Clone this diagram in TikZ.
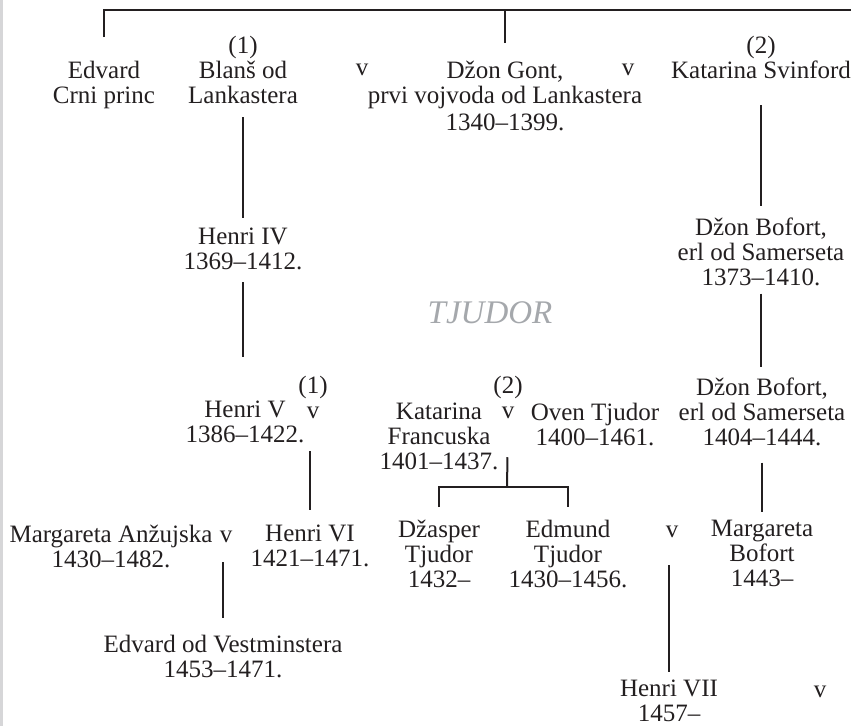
\documentclass[tikz,border=0pt]{standalone}
\usepackage{fontspec}
\setmainfont{Liberation Serif}
\usetikzlibrary{positioning}
\definecolor{ink}{RGB}{35,31,32}
\definecolor{stripgray}{RGB}{214,214,216}
\definecolor{housegray}{RGB}{165,168,172}

\begin{document}
\begin{tikzpicture}[x=1pt, y=-1pt,
    person/.style={anchor=north, inner sep=0pt, align=center, text=ink,
        font=\fontsize{25}{25}\selectfont, execute at begin node=\strut},
    wed/.style={person},
    link/.style={draw=ink, line width=2pt}]
        \useasboundingbox (0,0) rectangle (851,726);
        \fill[stripgray] (0,0) rectangle (3,726);

        % nodes %
        \node[person] (edvard) at (104,60.5) {Edvard\\Crni princ};
        \node[person] (blans) at (243,35.5) {(1)\\Blanš od\\Lankastera};
        \node[wed] (v1) at (362,57.5) {v};
        \node[person] (gont) at (505,60.5) {Džon Gont,\\prvi vojvoda od Lankastera\\[2pt]1340--1399.};
        \node[wed] (v2) at (628,57.5) {v};
        \node[person] (svinford) at (761,35.5) {(2)\\Katarina Svinford};

        \node[person] (henri4) at (243,227.5) {Henri IV\\1369--1412.};
        \node[person] (bofort1) at (761,217.5) {Džon Bofort,\\erl od Samerseta\\1373--1410.};
        \node[text=housegray, font=\fontsize{33}{36}\selectfont\itshape] (house) at (490,313) {TJUDOR};

        \node[person] (henri5) at (245,400.5) {Henri V\\1386--1422.};
        \node[wed] (v3) at (313,375.5) {(1)\\v};
        \node[person] (katarina) at (439,402.5) {Katarina\\Francuska\\1401--1437.};
        \node[wed] (v4) at (508,375.5) {(2)\\v};
        \node[person] (oven) at (595,402.5) {Oven Tjudor\\1400--1461.};
        \node[person] (bofort2) at (762,377.5) {Džon Bofort,\\erl od Samerseta\\1404--1444.};

        \node[person] (anzujska) at (111,524.5) {Margareta Anžujska\\1430--1482.};
        \node[wed] (v5) at (226,524.5) {v};
        \node[person] (henri6) at (310,524.5) {Henri VI\\1421--1471.};
        \node[person] (dzasper) at (439,519.5) {Džasper\\Tjudor\\1432--};
        \node[person] (edmund) at (568,519.5) {Edmund\\Tjudor\\1430--1456.};
        \node[wed] (v6) at (672,519.5) {v};
        \node[person] (margareta) at (762,519.5) {Margareta\\Bofort\\1443--};

        \node[person] (vestminster) at (223,634.5) {Edvard od Vestminstera\\1453--1471.};
        \node[person] (henri7) at (669,679.5) {Henri VII\\1457--};
        \node[wed] (v7) at (820,679.5) {v};

        \coordinate (crown) at (856,10);
        \coordinate (fork) at (507,487);

        % edges %
        \draw[link, shorten <=23.5pt] (edvard.north) |- (crown);
        \draw[link, shorten <=17.5pt] (gont.north) -- (gont.north |- crown);
        \draw[link, shorten <=6.5pt, shorten >=9.5pt] (blans.south) -- (blans.south |- henri4.north);
        \draw[link, shorten <=5.5pt, shorten >=43.5pt] (henri4.south) -- (henri4.south |- henri5.north);
        \draw[link, shorten <=19.5pt, shorten >=11.5pt] (svinford.south) -- (svinford.south |- bofort1.north);
        \draw[link, shorten <=0.5pt, shorten >=10.5pt] (bofort1.south) -- (bofort1.south |- bofort2.north);
        \draw[link, shorten <=1.5pt, shorten >=14.5pt] (henri5.south -| henri6.north) -- (henri6.north);
        \draw[link, shorten <=31.5pt] (v4.south) -- (fork);
        \draw[link, shorten <=12.5pt, shorten >=12.5pt] (dzasper.north) |- (fork) -| (edmund.north);
        \draw[link, shorten <=9.5pt, shorten >=7.5pt] (bofort2.south) -- (bofort2.south |- margareta.north);
        \draw[link, shorten <=12.5pt, shorten >=16.5pt] (vestminster.north |- v5.south) -- (vestminster.north);
        \draw[link, shorten <=20.5pt, shorten >=7.5pt] (henri7.north |- v6.south) -- (henri7.north);
      \end{tikzpicture}
\end{document}
